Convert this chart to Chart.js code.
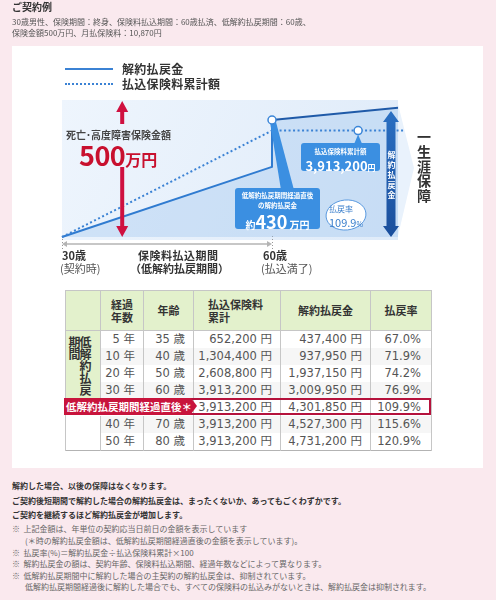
<!DOCTYPE html>
<html><head><meta charset="utf-8">
<script src="https://cdn.jsdelivr.net/npm/chart.js@4.4.1/dist/chart.umd.min.js"></script>
<style>
html,body{margin:0;padding:0}
body{width:496px;height:600px;background:#fae9ee;position:relative;overflow:hidden;font-family:"Noto Sans CJK JP","Noto Sans",sans-serif;}
.a{position:absolute;white-space:nowrap;z-index:3}
.panel{position:absolute;left:12px;top:46px;width:471px;height:422px;background:#fff;z-index:0}
#cw{position:absolute;left:0;top:0;width:496px;height:280px;z-index:1}
.b{font-weight:700}
.vt{writing-mode:vertical-rl;}
table.t{position:absolute;left:65px;top:290px;width:366px;border-collapse:collapse;table-layout:fixed;z-index:2;border:1px solid #b3b3b3}
table.t th{background:#e3f1cc;font-size:11px;font-weight:700;color:#333;line-height:13px;height:39px;padding:0;border:1px solid #c6c6c6;text-align:center}
table.t td{font-family:"DejaVu Sans","Noto Sans CJK JP",sans-serif;font-size:11.5px;color:#555;height:17px;line-height:17px;padding:0 8px 0 0;text-align:right;border-left:1px solid #c6c6c6;border-right:1px solid #c6c6c6;white-space:nowrap;overflow:hidden}
table.t tr.g td{background:#f6f6f6}
.note{position:absolute;left:12px;font-size:8px;line-height:10px;white-space:nowrap;z-index:2}
</style></head><body>
<div class="panel"></div>
<div class="a b" style="left:12px;top:1px;font-size:10px;line-height:12px;color:#333">ご契約例</div>
<div class="a" style="left:12px;top:17px;font-size:8px;line-height:10px;color:#555">30歳男性、保険期間：終身、保険料払込期間：60歳払済、低解約払戻期間：60歳、</div>
<div class="a" style="left:12px;top:28px;font-size:8px;line-height:10px;color:#555">保険金額500万円、月払保険料：10,870円</div>

<div class="a" style="left:65px;top:68px;width:48px;height:2px;background:#3b82d4"></div>
<div class="a" style="left:65px;top:83px;width:48px;height:0;border-top:2px dotted #3b82d4"></div>
<div class="a b" style="left:122px;top:62px;font-size:12px;line-height:14px;color:#333;letter-spacing:0.3px">解約払戻金</div>
<div class="a b" style="left:122px;top:77px;font-size:12px;line-height:14px;color:#333;letter-spacing:0.3px">払込保険料累計額</div>

<div id="cw"><canvas id="c" width="496" height="280"></canvas></div>

<div class="a b" style="left:66px;top:129px;font-size:10px;line-height:12px;color:#444">死亡･高度障害保険金額</div>
<div class="a b" style="left:79px;top:140px;line-height:30px;color:#c8102e"><span style="font-size:27px;letter-spacing:-0.5px">500</span><span style="font-size:16px">万円</span></div>

<div class="a b" style="left:235px;top:191px;width:85px;text-align:center;font-size:6.5px;line-height:8px;color:#fff">低解約払戻期間経過直後</div>
<div class="a b" style="left:235px;top:201px;width:85px;text-align:center;font-size:6.5px;line-height:8px;color:#fff">の解約払戻金</div>
<div class="a b" style="left:235px;top:211px;width:85px;text-align:center;line-height:20px;color:#fff"><span style="font-size:10px">約</span><span style="font-size:18px">430</span><span style="font-size:10px"> 万円</span></div>

<div class="a b" style="left:301px;top:147px;width:79px;text-align:center;font-size:6.5px;line-height:8px;color:#fff">払込保険料累計額</div>
<div class="a b" style="left:301px;top:156px;width:79px;text-align:center;line-height:16px;color:#fff"><span style="font-size:13px">3,913,200</span><span style="font-size:8px">円</span></div>

<div class="a" style="left:329px;top:204px;font-size:8px;line-height:10px;color:#3a7fcc">払戻率</div>
<div class="a" style="left:329px;top:214px;line-height:13px;color:#3a7fcc"><span style="font-size:11px">109.9</span><span style="font-size:7px">%</span></div>

<div class="a b vt" style="left:387px;top:151px;font-size:8px;line-height:8px;letter-spacing:2px;color:#fff">解約払戻金</div>
<div class="a b vt" style="left:417px;top:130px;font-size:14px;line-height:14px;letter-spacing:0.6px;color:#333">一生涯保障</div>

<div class="a b" style="left:62px;top:248px;font-size:11px;line-height:14px;color:#333">30歳</div>
<div class="a" style="left:60px;top:261px;font-size:11px;line-height:14px;color:#555">(契約時)</div>
<div class="a b" style="left:138px;top:248px;font-size:11px;line-height:14px;color:#333;letter-spacing:0.5px">保険料払込期間</div>
<div class="a b" style="left:130px;top:261px;font-size:11px;line-height:14px;color:#333">（低解約払戻期間）</div>
<div class="a b" style="left:263px;top:248px;font-size:11px;line-height:14px;color:#333">60歳</div>
<div class="a" style="left:261px;top:261px;font-size:11px;line-height:14px;color:#555">(払込満了)</div>

<div id="tbl"></div>
<div class="a" style="left:64px;top:398px;width:367px;height:17px;border:2px solid #b5123c;box-sizing:border-box;z-index:4"></div>
<div class="a b" style="left:64px;top:398px;width:127px;height:17px;background:#c8143c;color:#fff;font-size:10.5px;line-height:17px;padding-left:2px;box-sizing:border-box;z-index:5">低解約払戻期間経過直後＊</div>
<div class="a" style="left:191px;top:398px;width:0;height:0;border-left:6px solid #c8143c;border-top:8.5px solid transparent;border-bottom:8.5px solid transparent;z-index:5"></div>

<div class="note b" style="top:481px;color:#333">解約した場合、以後の保障はなくなります。</div>
<div class="note b" style="top:496px;color:#333">ご契約後短期間で解約した場合の解約払戻金は、まったくないか、あってもごくわずかです。</div>
<div class="note b" style="top:510px;color:#333">ご契約を継続するほど解約払戻金が増加します。</div>
<div class="note" style="top:524px;color:#666">※&nbsp;&nbsp;上記金額は、年単位の契約応当日前日の金額を表示しています</div>
<div class="note" style="top:536px;left:25px;color:#666">(＊時の解約払戻金額は、低解約払戻期間経過直後の金額を表示しています)。</div>
<div class="note" style="top:548px;color:#666">※&nbsp;&nbsp;払戻率(%)＝解約払戻金÷払込保険料累計×100</div>
<div class="note" style="top:559px;color:#666">※&nbsp;&nbsp;解約払戻金の額は、契約年齢、保険料払込期間、経過年数などによって異なります。</div>
<div class="note" style="top:571px;color:#666">※&nbsp;&nbsp;低解約払戻期間中に解約した場合の主契約の解約払戻金は、抑制されています。</div>
<div class="note" style="top:582px;left:25px;color:#666">低解約払戻期間経過後に解約した場合でも、すべての保険料の払込みがないときは、解約払戻金は抑制されます。</div>

<script>
// ---- chart data ----
const surrenderAges = [30, 60, 60, 78];
const surrenderValues = [0, 2580000, 4301850, 4750000];
const paidAges = [30, 60, 79];
const paidValues = [0, 3913200, 3913200];
const markerAges = [60, 72.3];
const markerValues = [4301850, 3913200];

// ---- table data ----
const tYears = ['5 年', '10 年', '20 年', '30 年', '', '40 年', '50 年'];
const tAges = ['35 歳', '40 歳', '50 歳', '60 歳', '', '70 歳', '80 歳'];
const tPaid = ['652,200 円', '1,304,400 円', '2,608,800 円', '3,913,200 円', '3,913,200 円', '3,913,200 円', '3,913,200 円'];
const tSurrender = ['437,400 円', '937,950 円', '1,937,150 円', '3,009,950 円', '4,301,850 円', '4,527,300 円', '4,731,200 円'];
const tRate = ['67.0%', '71.9%', '74.2%', '76.9%', '109.9%', '115.6%', '120.9%'];

// build table
(function(){
  let h = '<table class="t"><colgroup><col style="width:35px"><col style="width:43px"><col style="width:50px"><col style="width:87px"><col style="width:90px"><col style="width:61px"></colgroup>';
  h += '<tr><th></th><th>経過<br>年数</th><th>年齢</th><th style="text-align:left;padding-left:14px">払込保険料<br>累計</th><th>解約払戻金</th><th>払戻率</th></tr>';
  for (let i = 0; i < tRate.length; i++) {
    const cls = (i % 2 === 1) ? ' class="g"' : '';
    h += '<tr' + cls + '>';
    if (i === 0) h += '<td rowspan="4" style="background:#e3f1cc;vertical-align:top;text-align:left;padding:5px 0 0 3px"><div class="vt" style="font-family:\'Noto Sans CJK JP\';font-weight:700;font-size:12px;line-height:11px;height:62px;color:#333">低解約払戻<br>期間</div></td>';
    if (i === 5) h += '<td rowspan="2" style="background:#fff"></td>';
    if (i === 4) h += '<td colspan="3" style="background:#fff"></td>';
    else h += '<td>' + tYears[i] + '</td><td>' + tAges[i] + '</td>';
    h += '<td>' + tPaid[i] + '</td><td>' + tSurrender[i] + '</td><td style="padding-right:10px">' + tRate[i] + '</td></tr>';
  }
  h += '</table>';
  document.getElementById('tbl').innerHTML = h;
})();

function toXY(xs, ys){ return xs.map((v, i) => ({x: v, y: ys[i]})); }

function arrowShape(ctx, cx, top, bottom, sw, hw, hh, headTop, headBottom){
  ctx.beginPath();
  if (headTop) { ctx.moveTo(cx, top); ctx.lineTo(cx + hw/2, top + hh); ctx.lineTo(cx + sw/2, top + hh); }
  else { ctx.moveTo(cx + sw/2, top); }
  if (headBottom) { ctx.lineTo(cx + sw/2, bottom - hh); ctx.lineTo(cx + hw/2, bottom - hh); ctx.lineTo(cx, bottom); ctx.lineTo(cx - hw/2, bottom - hh); ctx.lineTo(cx - sw/2, bottom - hh); }
  else { ctx.lineTo(cx + sw/2, bottom); ctx.lineTo(cx - sw/2, bottom); }
  if (headTop) { ctx.lineTo(cx - sw/2, top + hh); ctx.lineTo(cx - hw/2, top + hh); }
  else { ctx.lineTo(cx - sw/2, top); }
  ctx.closePath();
  ctx.fill();
}

const deco = {
  id: 'deco',
  beforeDraw(chart){
    const {ctx, scales: {x, y}, chartArea} = chart;
    const L = x.getPixelForValue(30), R = x.getPixelForValue(78);
    const T = chartArea.top - 1, B = y.getPixelForValue(0) + 3;
    ctx.save();
    // chevron on the right
    ctx.fillStyle = '#e9f2fc';
    ctx.beginPath(); ctx.moveTo(R - 1, T); ctx.lineTo(R + 16, T + 68); ctx.lineTo(R - 1, B); ctx.closePath(); ctx.fill();
    const g = ctx.createLinearGradient(L, T, R, B);
    g.addColorStop(0, '#eef5fd'); g.addColorStop(1, '#dfebf9');
    ctx.fillStyle = g; ctx.fillRect(L, T, R - L, B - T);
    // period axis
    const x60 = x.getPixelForValue(60), ay = B + 4;
    ctx.strokeStyle = '#b4b4b4'; ctx.lineWidth = 1.5;
    ctx.beginPath(); ctx.moveTo(L + 2, ay); ctx.lineTo(x60 - 2, ay); ctx.stroke();
    ctx.fillStyle = '#b4b4b4';
    ctx.beginPath(); ctx.moveTo(L, ay); ctx.lineTo(L + 5, ay - 3); ctx.lineTo(L + 5, ay + 3); ctx.fill();
    ctx.beginPath(); ctx.moveTo(x60, ay); ctx.lineTo(x60 - 5, ay - 3); ctx.lineTo(x60 - 5, ay + 3); ctx.fill();
    ctx.strokeStyle = '#999'; ctx.lineWidth = 1; ctx.setLineDash([1, 2]);
    [L, x60].forEach(px => { ctx.beginPath(); ctx.moveTo(px + 0.5, B - 4); ctx.lineTo(px + 0.5, B + 10); ctx.stroke(); });
    ctx.restore();
  },
  afterDatasetDraw(chart, args){
    if (args.index !== 1) return;
    const {ctx, scales: {x, y}} = chart;
    const base = y.getPixelForValue(0);
    ctx.save();
    // red arrow (death benefit)
    const rx = x.getPixelForValue(38.6);
    ctx.fillStyle = '#cf1040';
    arrowShape(ctx, rx, 101, 124, 4, 12, 11, true, false);
    arrowShape(ctx, rx, 167, base, 4, 12, 11, false, true);
    // blue arrow (surrender value)
    const bx = x.getPixelForValue(77);
    const bg = ctx.createLinearGradient(0, 112, 0, base);
    bg.addColorStop(0, '#2a6fc2'); bg.addColorStop(1, '#1a4e9c');
    ctx.fillStyle = bg;
    arrowShape(ctx, bx, 111, base, 9, 16, 11, true, true);
    // wedge from marker to callout
    const mx = x.getPixelForValue(markerAges[0]), my = y.getPixelForValue(markerValues[0]);
    ctx.fillStyle = '#3b8fe1';
    ctx.beginPath(); ctx.moveTo(mx - 2, my + 2); ctx.lineTo(mx + 4, my + 2); ctx.lineTo(mx + 22, 190); ctx.lineTo(mx + 9, 190); ctx.closePath(); ctx.fill();
    ctx.beginPath(); ctx.roundRect(235, 188, 85, 41, 3); ctx.fill();
    // callout for paid total
    const px = x.getPixelForValue(markerAges[1]), py = y.getPixelForValue(markerValues[1]);
    ctx.beginPath(); ctx.moveTo(px, py + 4); ctx.lineTo(px + 4, 144); ctx.lineTo(px - 4, 144); ctx.closePath(); ctx.fill();
    ctx.beginPath(); ctx.roundRect(301, 143, 79, 28, 3); ctx.fill();
    // ellipse
    ctx.fillStyle = '#fff'; ctx.strokeStyle = '#5a9ae0'; ctx.lineWidth = 1;
    ctx.beginPath(); ctx.ellipse(346, 215, 20, 15, -0.1, 0, Math.PI * 2); ctx.fill(); ctx.stroke();
    ctx.restore();
  }
};

new Chart(document.getElementById('c'), {
  type: 'line',
  data: {
    datasets: [
      {
        label: '解約払戻金', data: toXY(surrenderAges, surrenderValues),
        borderColor: '#2f7bd0', borderWidth: 2, pointRadius: 0, tension: 0,
        fill: 'origin', backgroundColor: 'rgba(150,192,238,0.33)', order: 2,
        segment: { borderColor: c => c.p0DataIndex >= 2 ? '#1f5aa8' : '#2f7bd0' }
      },
      {
        label: '払込保険料累計額', data: toXY(paidAges, paidValues),
        borderColor: '#3b82d4', borderWidth: 2, borderDash: [2, 2.5], pointRadius: 0, tension: 0,
        fill: false, order: 1
      },
      {
        label: 'markers', data: toXY(markerAges, markerValues), showLine: false,
        pointRadius: 4, pointBackgroundColor: '#fff', pointBorderColor: '#3b86d8', pointBorderWidth: 1.5, order: 0
      }
    ]
  },
  options: {
    responsive: false, animation: false, events: [],
    layout: { padding: { left: 62, right: 91, top: 101, bottom: 43 } },
    plugins: { legend: { display: false }, tooltip: { enabled: false } },
    scales: {
      x: { type: 'linear', min: 30, max: 79, display: false },
      y: { type: 'linear', min: 0, max: 5000000, display: false }
    },
    clip: false
  },
  plugins: [deco]
});
</script>
</body></html>
